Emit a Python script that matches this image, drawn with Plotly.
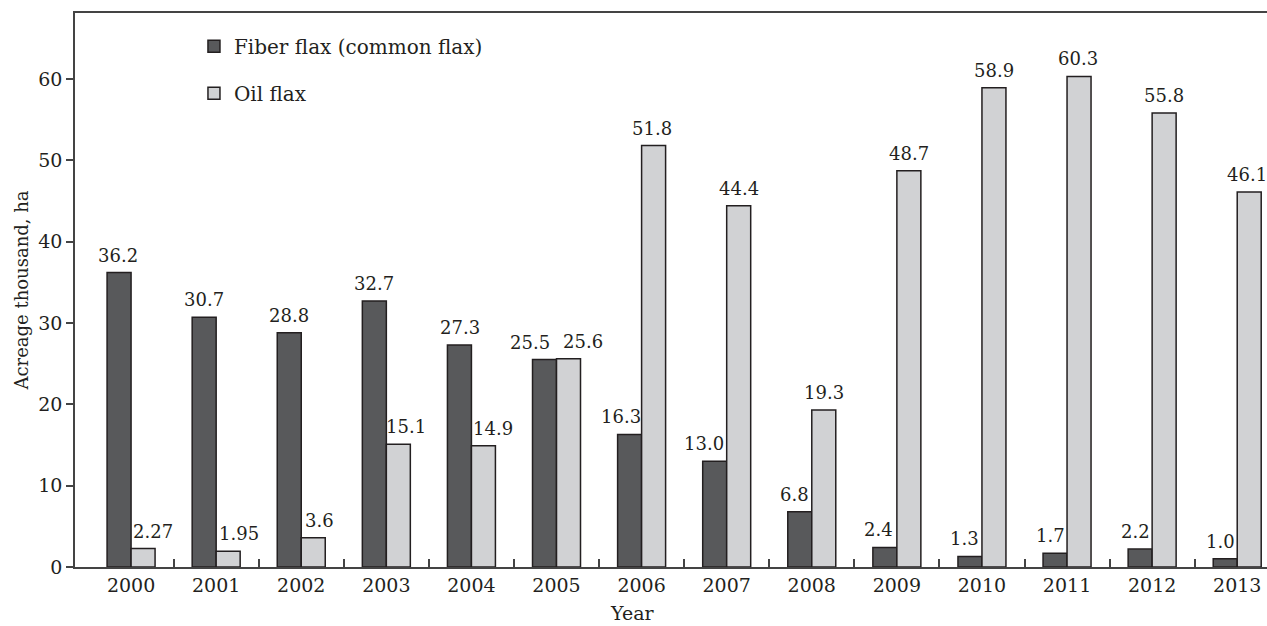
import plotly.graph_objects as go

years = [2000, 2001, 2002, 2003, 2004, 2005, 2006, 2007, 2008, 2009, 2010, 2011, 2012, 2013]
fiber = [36.2, 30.7, 28.8, 32.7, 27.3, 25.5, 16.3, 13.0, 6.8, 2.4, 1.3, 1.7, 2.2, 1.0]
fiber_labels = ["36.2", "30.7", "28.8", "32.7", "27.3", "25.5", "16.3", "13.0", "6.8", "2.4", "1.3", "1.7", "2.2", "1.0"]
oil = [2.27, 1.95, 3.6, 15.1, 14.9, 25.6, 51.8, 44.4, 19.3, 48.7, 58.9, 60.3, 55.8, 46.1]
oil_labels = ["2.27", "1.95", "3.6", "15.1", "14.9", "25.6", "51.8", "44.4", "19.3", "48.7", "58.9", "60.3", "55.8", "46.1"]
y_ticks = [0, 10, 20, 30, 40, 50, 60]

# label nudges (pixels), styling only
fiber_label_nudge = [-1, 0, 0, 0, 1, -15, -9, -11, -5, -6, -5, -5, -5, -5]
oil_label_nudge = [10, 11, 6, 8, 10, 14, -2, 0, 0, 0, 0, -1, 0, -2]

FONT = "DejaVu Serif"
INK = "#231f20"
AXIS = "#444444"
BAR_HALF_PX = 12

fig = go.Figure()
fig.add_trace(go.Bar(
    x=years, y=fiber, name="Fiber flax (common flax)",
    marker=dict(color="#58595b", line=dict(color=INK, width=1.5)),
    legendgroup="a",
))
fig.add_trace(go.Bar(
    x=years, y=oil, name="Oil flax",
    marker=dict(color="#d1d2d4", line=dict(color=INK, width=1.5)),
    legendgroup="b",
))

for yr, v, t, n in zip(years, fiber, fiber_labels, fiber_label_nudge):
    fig.add_annotation(x=yr, y=v, text=t, showarrow=False, xref="x", yref="y",
                       xanchor="center", yanchor="bottom", xshift=-BAR_HALF_PX + n, yshift=5,
                       font=dict(family=FONT, size=18, color=INK))
for yr, v, t, n in zip(years, oil, oil_labels, oil_label_nudge):
    fig.add_annotation(x=yr, y=v, text=t, showarrow=False, xref="x", yref="y",
                       xanchor="center", yanchor="bottom", xshift=BAR_HALF_PX + n, yshift=5,
                       font=dict(family=FONT, size=18, color=INK))

fig.add_annotation(x=0.467, y=0, xref="paper", yref="paper", text="Year", showarrow=False,
                   xanchor="center", yanchor="top", yshift=-33,
                   font=dict(family=FONT, size=19, color=INK))

fig.update_layout(
    width=1267, height=626,
    margin=dict(l=75, r=0, t=13, b=59),
    paper_bgcolor="white", plot_bgcolor="white",
    barmode="group", bargap=0.436, bargroupgap=0,
    font=dict(family=FONT, size=19, color=INK),
    showlegend=True,
    legend=dict(x=0.0998, y=0.975, xanchor="left", yanchor="top",
                font=dict(family=FONT, size=20, color=INK),
                bgcolor="rgba(0,0,0,0)", tracegroupgap=18, itemwidth=30),
    xaxis=dict(
        range=[1999.341, 2013.35], tickmode="array", tickvals=years,
        ticktext=[str(y) for y in years], ticks="", showgrid=False,
        showline=True, linecolor=AXIS, linewidth=1.5, mirror=True,
        tickfont=dict(family=FONT, size=19, color=INK),
        minor=dict(tickmode="array", tickvals=[y + 0.5 for y in years[:-1]],
                   ticks="inside", ticklen=8, tickcolor=AXIS, tickwidth=1.5),
        zeroline=False,
    ),
    yaxis=dict(
        range=[0, 68.1], tickmode="array", tickvals=y_ticks,
        ticks="outside", ticklen=7, tickcolor=AXIS, tickwidth=1.5,
        showgrid=False, showline=True, linecolor=AXIS, linewidth=1.5,
        tickfont=dict(family=FONT, size=19, color=INK),
        title=dict(text="Acreage thousand, ha", font=dict(family=FONT, size=18, color=INK), standoff=5),
        zeroline=False,
    ),
)

fig.write_html("out.html", config={"displayModeBar": False},
               post_script="document.body.style.margin='0';")
